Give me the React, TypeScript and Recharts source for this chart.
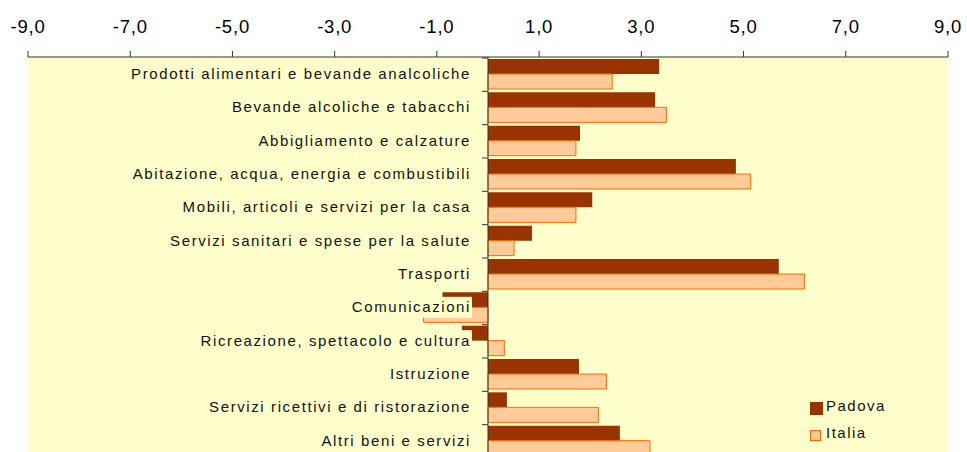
import type { CSSProperties } from 'react';
import {
  BarChart,
  Bar,
  XAxis,
  YAxis,
  CartesianGrid,
  ReferenceLine,
  LabelList,
  Legend,
} from 'recharts';

// ---------------------------------------------------------------------------
// Variazioni per capitolo di spesa — Padova vs Italia
// ---------------------------------------------------------------------------

const categories = [
  'Prodotti alimentari e bevande analcoliche',
  'Bevande alcoliche e tabacchi',
  'Abbigliamento e calzature',
  'Abitazione, acqua, energia e combustibili',
  'Mobili, articoli e servizi per la casa',
  'Servizi sanitari e spese per la salute',
  'Trasporti',
  'Comunicazioni',
  'Ricreazione, spettacolo e cultura',
  'Istruzione',
  'Servizi ricettivi e di ristorazione',
  'Altri beni e servizi',
];

const padova = [3.35, 3.27, 1.8, 4.85, 2.04, 0.86, 5.69, -0.89, -0.51, 1.78, 0.37, 2.58];
const italia = [2.43, 3.49, 1.72, 5.14, 1.72, 0.51, 6.19, -1.26, 0.32, 2.32, 2.16, 3.17];

const xTicks = [-9, -7, -5, -3, -1, 1, 3, 5, 7, 9];

const data = categories.map((name, i) => ({
  name,
  Padova: padova[i],
  Italia: italia[i],
}));

const FONT = '"Liberation Sans", Arial, sans-serif';
const PADOVA = '#993300';
const ITALIA = '#FFCC99';
const ITALIA_EDGE = '#FF6600';
const PLOT_BG = '#FFFFCC';

const frame: CSSProperties = {
  position: 'absolute',
  left: 0,
  top: 0,
  width: 967,
  height: 452,
  overflow: 'hidden',
  background: '#fff',
};

const fmt = (v: number) => v.toFixed(1).replace('.', ',');

// category label drawn next to the zero line, on a box of the plot colour
function CategoryLabel(props: any) {
  const { index } = props;
  const vb = props.viewBox ?? props;
  const x = Number(vb.x ?? props.x);
  const y = Number(vb.y ?? props.y);
  const w = Number(vb.width ?? props.width);
  const zeroX = w < 0 ? x : italia[index] < 0 ? x + w : x;
  const label = categories[index];
  const boxW = label.length * 8.5 + 4;
  const right = zeroX - 16;
  return (
    <g>
      <rect x={right - boxW} y={y - 10.5} width={boxW} height={21} fill={PLOT_BG} />
      <text
        x={zeroX - 17}
        y={y + 5}
        textAnchor="end"
        fontSize={15}
        fontFamily={FONT}
        letterSpacing={1.6}
        fill="#111"
      >
        {label}
      </text>
      <line x1={zeroX - 6} x2={zeroX} y1={y - 16} y2={y - 16} stroke="#333" />
    </g>
  );
}

function LegendBox() {
  const row: CSSProperties = {
    display: 'flex',
    alignItems: 'center',
    height: 27,
    fontFamily: FONT,
    fontSize: 15,
    letterSpacing: 1.5,
    color: '#111',
  };
  return (
    <div>
      <div style={row}>
        <span style={{ width: 13, height: 13, background: PADOVA, marginRight: 3, marginTop: 6 }} />
        <span>Padova</span>
      </div>
      <div style={row}>
        <span
          style={{
            width: 9,
            height: 9,
            background: ITALIA,
            border: `1px solid ${ITALIA_EDGE}`,
            marginRight: 5,
            marginTop: 6,
          }}
        />
        <span>Italia</span>
      </div>
    </div>
  );
}

export default function App() {
  return (
    <div style={frame}>
      <BarChart
        width={967}
        height={460}
        data={data}
        layout="vertical"
        margin={{ top: 0, right: 19, left: 28, bottom: 3 }}
        barGap={0}
        barSize={15}
      >
        <CartesianGrid fill={PLOT_BG} horizontal={false} vertical={false} />
        <XAxis
          type="number"
          orientation="top"
          domain={[-9, 9]}
          ticks={xTicks}
          interval={0}
          allowDataOverflow
          height={57}
          tickSize={6}
          tickMargin={18}
          tickFormatter={fmt}
          tick={{ fontSize: 18.5, fill: '#000', fontFamily: FONT, letterSpacing: 0.8 }}
          axisLine={{ stroke: '#333' }}
          tickLine={{ stroke: '#333' }}
        />
        <YAxis type="category" dataKey="name" hide />
        <Bar dataKey="Padova" fill={PADOVA} isAnimationActive={false} />
        <Bar
          dataKey="Italia"
          fill={ITALIA}
          stroke={ITALIA_EDGE}
          strokeWidth={1}
          isAnimationActive={false}
        >
          <LabelList dataKey="name" content={CategoryLabel} />
        </Bar>
        <ReferenceLine x={0} stroke="#333" />
        <Legend
          layout="horizontal"
          verticalAlign="middle"
          align="center"
          wrapperStyle={{ left: 810, top: 392, width: 'auto' }}
          content={LegendBox}
        />
      </BarChart>
    </div>
  );
}
